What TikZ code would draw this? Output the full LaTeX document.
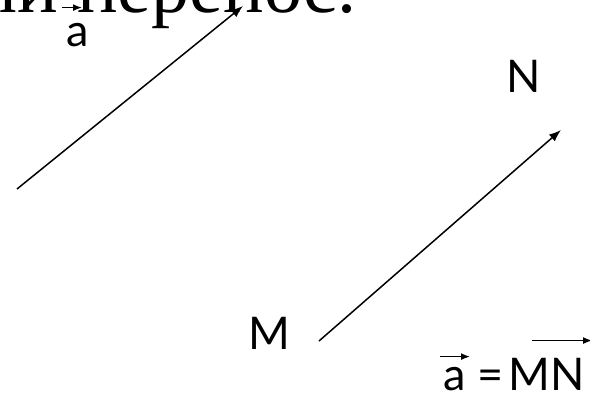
\documentclass[tikz,border=0pt]{standalone}
\usepackage{fontspec}
\newfontfamily\titlefont{Liberation Serif}
\newfontfamily\labelfont{Lato}
\usetikzlibrary{arrows.meta,positioning}

\begin{document}
\begin{tikzpicture}[x=1pt, y=-1pt,
  vec/.style = {draw, line width=1.5pt, -{Latex[length=12pt,width=9pt]}},
  bar/.style = {draw, line width=1.4pt, -{Latex[length=9pt,width=7pt]}},
  lbl/.style = {font=\labelfont\fontsize{45}{48}\selectfont, inner sep=0pt, anchor=base west},
  ttl/.style = {font=\titlefont\fontsize{76}{80}\selectfont, inner sep=0pt},
]
\clip (0,0) rectangle (590,396);

% ========== Title (cut by the top edge) ==========
\node[ttl, anchor=base west] (ttlB) at (77,13) {перенос.};
\node[ttl, anchor=base east] (ttlA) at ([xshift=-19]ttlB.base west) {Параллельный};

% ========== Vector a (left) ==========
\coordinate (A0) at (17,189);
\coordinate (A1) at (243,6);
\draw[vec] (A0) -- (A1);
\node[lbl] (la) at (66,47) {a};
\draw[bar] ([shift={(-4,-16)}]la.north west) -- ([shift={(16,-16)}]la.north west);

% ========== Vector MN (right) ==========
\node[lbl] (lM) at (248,349) {M};
\node[lbl] (lN) at (506,93) {N};
\coordinate (M0) at (319,341);
\coordinate (N1) at (561,130);
\draw[vec] (M0) -- (N1);

% ========== Equality (bottom) ==========
\node[lbl] (fa)  at (443,390) {a};
\node[lbl] (feq) at (477,390) {=};
\node[lbl] (fmn) at (508,390) {MN};
\draw[bar] ([shift={(-3,-10)}]fa.north west) -- ([shift={(27,-10)}]fa.north west);
\draw[bar] ([shift={(24,-17)}]fmn.north west) -- ([shift={(84,-17)}]fmn.north west);

\end{tikzpicture}
\end{document}
